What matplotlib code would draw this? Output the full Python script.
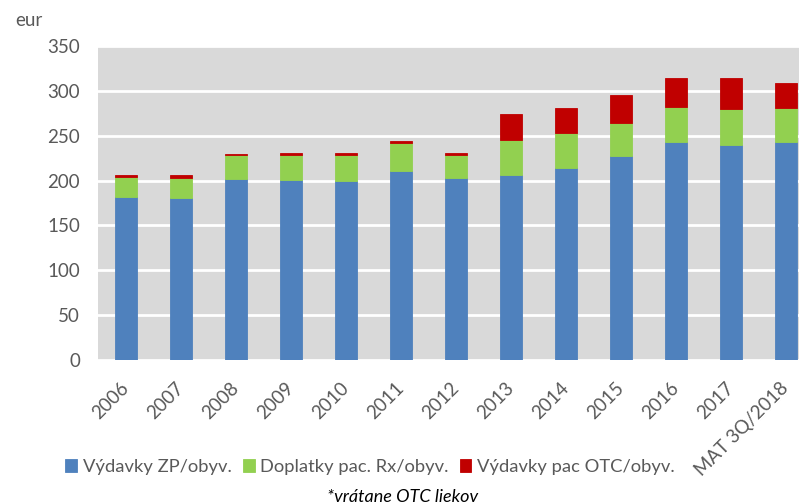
import matplotlib.pyplot as plt
import numpy as np

plt.rcParams['font.family'] = ['Lato', 'DejaVu Sans']

# Data
categories = ['2006', '2007', '2008', '2009', '2010', '2011', '2012',
              '2013', '2014', '2015', '2016', '2017', 'MAT 3Q/2018']
vydavky_zp = [182, 181, 201.5, 201, 200, 211, 202.5, 206.5, 214.5, 227, 243, 240, 243.5]
doplatky_rx = [22, 22, 26.5, 28, 28.5, 30.5, 26.5, 39, 38, 37.5, 38.5, 39.5, 37]
vydavky_otc = [2.6, 2.7, 2, 2, 2, 2.5, 1.5, 28.5, 28, 31, 32.5, 34.5, 28]
series_labels = ['Výdavky ZP/obyv.', 'Doplatky pac. Rx/obyv.', 'Výdavky pac OTC/obyv.']
colors = ['#4F81BD', '#92D050', '#C00000']
text_color = '#595959'

fig = plt.figure(figsize=(7.99, 5.04), dpi=100)
ax = fig.add_axes([98 / 799, 144 / 504, 715.5 / 799, 314 / 504])
ax.set_facecolor('#D9D9D9')

x = np.arange(len(categories))
width = 0.4
bottom = np.zeros(len(categories))
for vals, col, lab in zip([vydavky_zp, doplatky_rx, vydavky_otc], colors, series_labels):
    vals = np.array(vals)
    ax.bar(x, vals, width, bottom=bottom, color=col, label=lab,
           edgecolor=col, linewidth=0.6, zorder=3)
    bottom += vals

ax.set_xlim(-0.5, len(categories) - 0.5)
ax.set_ylim(0, 350)
ax.set_yticks(np.arange(0, 351, 50))
ax.grid(axis='y', color='white', linewidth=2, zorder=1)
ax.set_axisbelow(True)
for s in ax.spines.values():
    s.set_visible(False)
ax.tick_params(axis='both', length=0, colors=text_color)
ax.tick_params(axis='y', labelsize=13.5, pad=13)
ax.set_xticks(x)
ax.set_xticklabels(categories, rotation=45, ha='right', va='center',
                   rotation_mode='anchor', fontsize=13.5, color=text_color)
ax.tick_params(axis='x', pad=18)

fig.text(15 / 799, 1 - 21 / 504, 'eur', fontsize=13.5, color=text_color, va='center')

leg = fig.legend(loc='center', bbox_to_anchor=(370 / 799, 1 - 467 / 504), ncol=3,
                 frameon=False, fontsize=13.2,
                 handlelength=0.65, handleheight=0.65,
                 handletextpad=0.3, columnspacing=0.6, borderaxespad=0)
for t in leg.get_texts():
    t.set_color(text_color)

fig.text(403 / 799, 1 - 497 / 504, '*vrátane OTC liekov', fontsize=13, style='italic',
         color='black', ha='center', va='center')

fig.savefig('out.png', dpi=100)
